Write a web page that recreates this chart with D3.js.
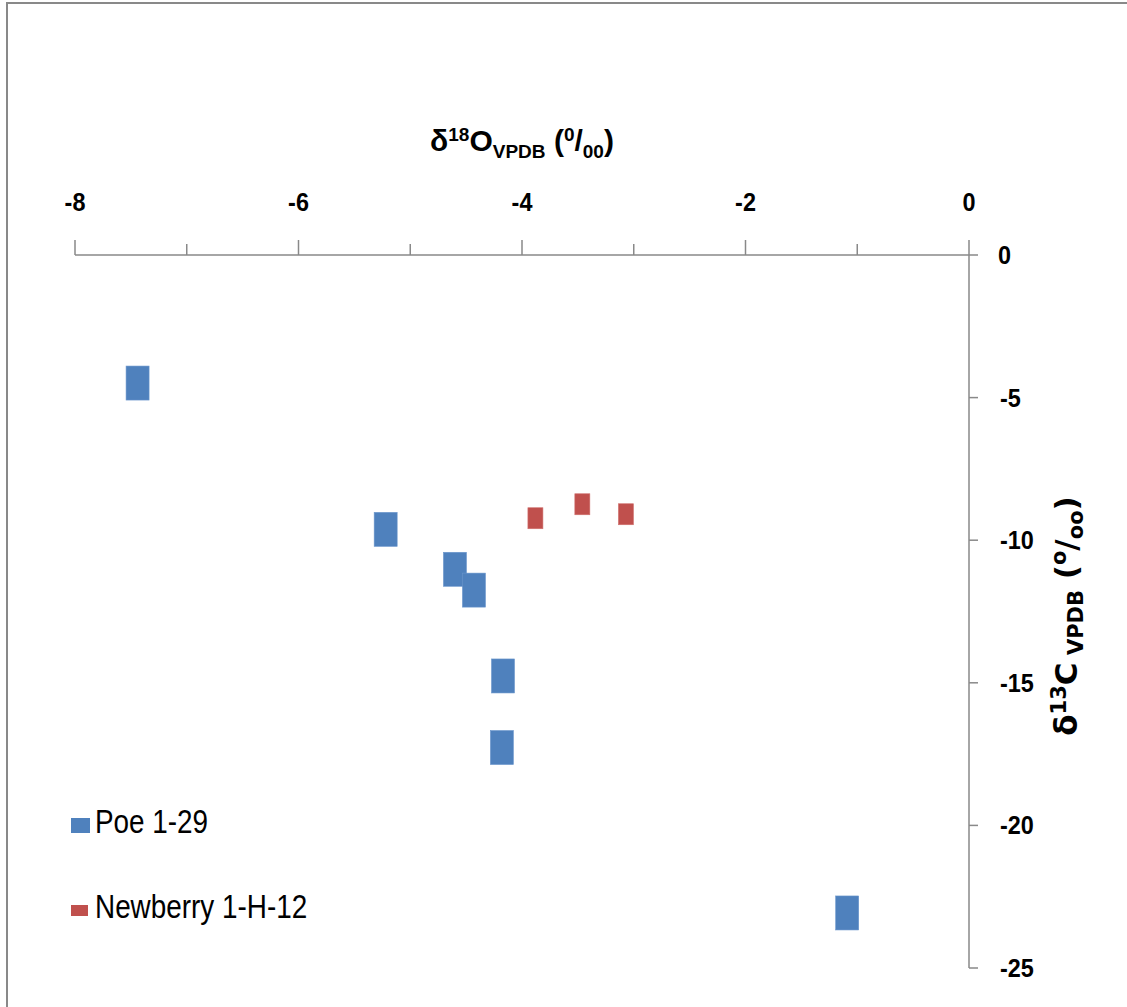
<!DOCTYPE html>
<html>
<head>
<meta charset="utf-8">
<script src="https://cdnjs.cloudflare.com/ajax/libs/d3/7.8.5/d3.min.js"></script>
<style>
  body { margin: 0; background: #fff; }
  text { font-family: "Liberation Sans", Arial, sans-serif; fill: #000; }
  .tickLabel { font-weight: bold; font-size: 26px; }
  .axis { stroke: #898989; stroke-width: 1.5; fill: none; }
</style>
</head>
<body>
<div id="vis"></div>
<script>
// data
var poeX = [-7.44, -5.22, -4.60, -4.43, -4.17, -4.18, -1.09],
    poeY = [-4.49, -9.62, -11.02, -11.75, -14.76, -17.27, -23.07],
    newX = [-3.88, -3.46, -3.07],
    newY = [-9.23, -8.74, -9.09],
    xMajor = [-8, -6, -4, -2, 0],
    xMinor = [-8, -7, -6, -5, -4, -3, -2, -1, 0],
    yMajor = [0, -5, -10, -15, -20, -25],
    seriesNames = ["Poe 1-29", "Newberry 1-H-12"],
    seriesColors = ["#4f81bd", "#c0504d"];

var w = 1127,
    h = 1007,
    x = d3.scaleLinear().domain([-8, 0]).range([75, 969]),
    y = d3.scaleLinear().domain([0, -25]).range([255, 968]);

var vis = d3.select("#vis")
            .append("svg")
            .attr("width", w)
            .attr("height", h);

// outer chart border (only top and left show)
vis.append("rect")
   .attr("x", 7).attr("y", 3)
   .attr("width", w + 20).attr("height", h + 20)
   .attr("fill", "none")
   .attr("stroke", "#898989")
   .attr("stroke-width", 2);

/***** X axis along the top *****/
vis.append("line").attr("class", "axis")
   .attr("x1", x(-8)).attr("x2", x(0))
   .attr("y1", y(0)).attr("y2", y(0));

vis.selectAll(".xTick")
   .data(xMinor)
   .enter().append("line")
   .attr("class", "axis")
   .attr("x1", function(d) { return x(d); })
   .attr("x2", function(d) { return x(d); })
   .attr("y1", y(0))
   .attr("y2", function(d) { return d % 2 == 0 ? y(0) - 15 : y(0) - 11; });

vis.selectAll(".xLabel")
   .data(xMajor)
   .enter().append("text")
   .attr("class", "tickLabel")
   .attr("transform", function(d) { return "translate(" + x(d) + ",211) scale(0.9,1)"; })
   .attr("text-anchor", "middle")
   .text(function(d) { return d == 0 ? "0" : "-" + Math.abs(d); });

/***** Y axis on the right *****/
vis.append("line").attr("class", "axis")
   .attr("x1", x(0)).attr("x2", x(0))
   .attr("y1", y(0)).attr("y2", y(-25));

vis.selectAll(".yTick")
   .data(yMajor)
   .enter().append("line")
   .attr("class", "axis")
   .attr("x1", x(0))
   .attr("x2", x(0) + 9)
   .attr("y1", function(d) { return y(d); })
   .attr("y2", function(d) { return y(d); });

vis.selectAll(".yLabel")
   .data(yMajor)
   .enter().append("text")
   .attr("class", "tickLabel")
   .attr("transform", function(d) { return "translate(" + (d == 0 ? 998 : 1000) + "," + (y(d) + 9) + ") scale(0.9,1)"; })
   .text(function(d) { return d == 0 ? "0" : "-" + Math.abs(d); });

/***** axis titles *****/
var xt = vis.append("text")
   .attr("x", 522).attr("y", 151)
   .attr("text-anchor", "middle")
   .style("font-size", "30px")
   .style("font-weight", "bold");
xt.append("tspan").text("δ");
xt.append("tspan").attr("dy", -10).style("font-size", "19px").text("18");
xt.append("tspan").attr("dy", 10).text("O");
xt.append("tspan").attr("dy", 7).style("font-size", "19px").text("VPDB");
xt.append("tspan").attr("dy", -7).text(" (");
xt.append("tspan").attr("dy", -10).style("font-size", "19px").text("0");
xt.append("tspan").attr("dy", 10).text("/");
xt.append("tspan").attr("dy", 7).style("font-size", "19px").text("00");
xt.append("tspan").attr("dy", -7).text(")");

var yt = vis.append("text")
   .attr("transform", "translate(1077,616) rotate(-90)")
   .attr("text-anchor", "middle")
   .style("font-family", "'DejaVu Sans', sans-serif")
   .style("font-size", "31px")
   .style("font-weight", "bold");
yt.append("tspan").text("δ");
yt.append("tspan").attr("dy", -11).style("font-size", "21px").text("13");
yt.append("tspan").attr("dy", 11).text("C");
yt.append("tspan").attr("dy", 6).style("font-size", "21px").text(" VPDB");
yt.append("tspan").attr("dy", -6).text(" (");
yt.append("tspan").attr("dy", -11).style("font-size", "21px").text("o");
yt.append("tspan").attr("dy", 11).text("/");
yt.append("tspan").attr("dy", 6).style("font-size", "21px").text("oo");
yt.append("tspan").attr("dy", -6).text(")");

/***** points *****/
var poe = poeX.map(function(v, i) { return { x: v, y: poeY[i] }; });
var nb = newX.map(function(v, i) { return { x: v, y: newY[i] }; });

vis.selectAll(".poe")
   .data(poe)
   .enter().append("rect")
   .attr("x", function(d) { return x(d.x) - 11.5; })
   .attr("y", function(d) { return y(d.y) - 17; })
   .attr("width", 23).attr("height", 34)
   .attr("fill", seriesColors[0])
   .attr("stroke", "#6b96cc").attr("stroke-width", 0.6);

vis.selectAll(".nb")
   .data(nb)
   .enter().append("rect")
   .attr("x", function(d) { return x(d.x) - 7.5; })
   .attr("y", function(d) { return y(d.y) - 10.5; })
   .attr("width", 15).attr("height", 21)
   .attr("fill", seriesColors[1])
   .attr("stroke", "#d0706d").attr("stroke-width", 0.6);

/***** legend *****/
var leg = vis.selectAll(".leg")
   .data(seriesNames)
   .enter().append("g")
   .attr("transform", function(d, i) { return "translate(71," + (i == 0 ? 818 : 903) + ")"; });

leg.append("rect")
   .attr("width", function(d, i) { return i == 0 ? 19 : 17; })
   .attr("height", function(d, i) { return i == 0 ? 15 : 11; })
   .attr("y", function(d, i) { return i == 0 ? 0 : 2; })
   .attr("fill", function(d, i) { return seriesColors[i]; });

leg.append("text")
   .attr("transform", "translate(24,15) scale(0.82,1)")
   .style("font-size", "34px")
   .text(function(d) { return d; });
</script>
</body>
</html>
